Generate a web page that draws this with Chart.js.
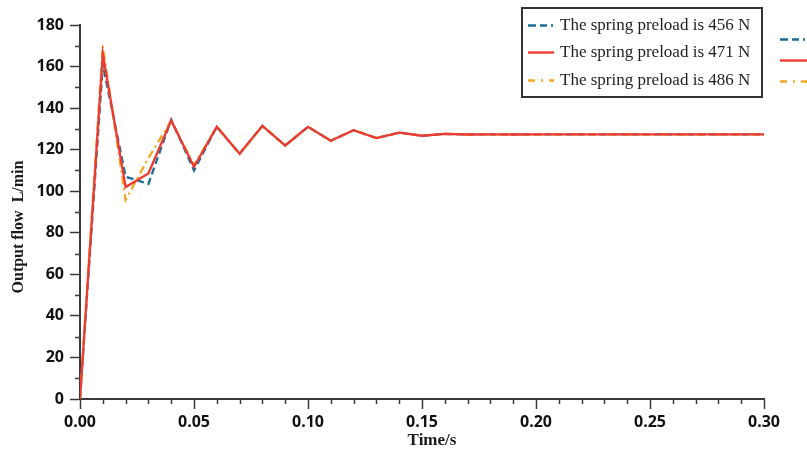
<!DOCTYPE html>
<html>
<head>
<meta charset="utf-8">
<script src="https://cdn.jsdelivr.net/npm/chart.js@4.4.1/dist/chart.umd.min.js"></script>
<style>
  html, body { margin: 0; padding: 0; background: #ffffff; }
  #wrap { width: 807px; height: 460px; position: relative; }
</style>
</head>
<body>
<div id="wrap"><canvas id="c" width="807" height="460"></canvas></div>
<script>
// Time axis (s)
const times = [0.00, 0.01, 0.02, 0.03, 0.04, 0.05, 0.06, 0.07, 0.08, 0.09,
               0.10, 0.11, 0.12, 0.13, 0.14, 0.15, 0.16, 0.17, 0.18, 0.19,
               0.20, 0.21, 0.22, 0.23, 0.24, 0.25, 0.26, 0.27, 0.28, 0.29, 0.30];

// Output flow (L/min) for each spring preload
const flow456 = [0, 161, 107, 103.5, 134.5, 110, 131, 118, 131.5, 122,
                 131, 124.3, 129.4, 125.6, 128.2, 126.7, 127.6, 127.3, 127.4, 127.3,
                 127.4, 127.4, 127.4, 127.4, 127.4, 127.4, 127.4, 127.4, 127.4, 127.4, 127.4];
const flow471 = [0, 166, 102, 108.5, 134, 111.8, 131, 118, 131.5, 122,
                 131, 124.3, 129.4, 125.6, 128.2, 126.7, 127.6, 127.3, 127.4, 127.3,
                 127.4, 127.4, 127.4, 127.4, 127.4, 127.4, 127.4, 127.4, 127.4, 127.4, 127.4];
const flow486 = [0, 170, 95.8, 116, 134, 112.5, 131, 118, 131.3, 122,
                 131, 124.3, 129.4, 125.6, 128.2, 126.7, 127.6, 127.3, 127.4, 127.3,
                 127.4, 127.4, 127.4, 127.4, 127.4, 127.4, 127.4, 127.4, 127.4, 127.4, 127.4];

const seriesLabels = ['The spring preload is 456 N', 'The spring preload is 471 N', 'The spring preload is 486 N'];

// Tick labels
const xTickLabels = ['0.00', '0.05', '0.10', '0.15', '0.20', '0.25', '0.30'];
const yTickLabels = ['0', '20', '40', '60', '80', '100', '120', '140', '160', '180'];

const AXIS = '#3a3a3a';
const styles = [
  { color: '#1b6c98', dash: [7, 4] },
  { color: '#ee3a30', dash: [] },
  { color: '#f7a623', dash: [8, 4, 2, 4] }
];
const legendDash = [[8, 4, 7, 4, 2, 4], [], [7, 6, 2, 6, 9, 4]];

function pts(vals) { return times.map((t, i) => ({ x: t, y: vals[i] })); }

// Minor ticks along both axes
const minorTicks = {
  id: 'minorTicks',
  afterDraw(chart) {
    const { ctx, scales: { x, y } } = chart;
    ctx.save();
    ctx.strokeStyle = AXIS;
    ctx.lineWidth = 1.5;
    ctx.beginPath();
    for (let i = 1; i < 30; i++) {
      if (i % 5 === 0) continue;
      const px = Math.round(x.getPixelForValue(i / 100)) + 0.5;
      ctx.moveTo(px, y.bottom);
      ctx.lineTo(px, y.bottom + 5);
    }
    for (let v = 10; v < 180; v += 20) {
      const py = Math.round(y.getPixelForValue(v)) + 0.5;
      ctx.moveTo(x.left, py);
      ctx.lineTo(x.left - 5, py);
    }
    ctx.stroke();
    ctx.restore();
  }
};

// Axis titles
const axisTitles = {
  id: 'axisTitles',
  afterDraw(chart) {
    const { ctx } = chart;
    ctx.save();
    ctx.fillStyle = '#1a1a1a';
    ctx.font = 'bold 17px "Liberation Serif", "Times New Roman", serif';
    ctx.textAlign = 'center';
    ctx.textBaseline = 'middle';
    ctx.fillText('Time/s', 432, 441);
    ctx.font = 'bold 16px "Liberation Serif", "Times New Roman", serif';
    ctx.translate(19, 227);
    ctx.rotate(-Math.PI / 2);
    ctx.fillText('Output flow  L/min', 0, 0);
    ctx.restore();
  }
};

// Boxed legend plus the sample strip at the right edge
const boxLegend = {
  id: 'boxLegend',
  afterDraw(chart) {
    const { ctx } = chart;
    ctx.save();
    ctx.fillStyle = '#ffffff';
    ctx.fillRect(522, 8, 240, 89);
    ctx.strokeStyle = '#333333';
    ctx.lineWidth = 2;
    ctx.strokeRect(522, 8, 240, 89);
    const rows = [25, 52, 80];
    const rows2 = [39, 60, 81];
    ctx.font = '17px "Liberation Serif", "Times New Roman", serif';
    ctx.textBaseline = 'middle';
    ctx.textAlign = 'left';
    chart.data.datasets.forEach((ds, i) => {
      ctx.strokeStyle = ds.borderColor;
      ctx.lineWidth = 2.4;
      ctx.setLineDash(legendDash[i]);
      ctx.beginPath();
      ctx.moveTo(528, rows[i] + 0.5);
      ctx.lineTo(554, rows[i] + 0.5);
      ctx.stroke();
      ctx.beginPath();
      ctx.moveTo(780, rows2[i] + 0.5);
      ctx.lineTo(807, rows2[i] + 0.5);
      ctx.stroke();
      ctx.setLineDash([]);
      ctx.fillStyle = '#1e1e1e';
      ctx.fillText(ds.label, 560, rows[i] + 1);
    });
    ctx.restore();
  }
};

new Chart(document.getElementById('c'), {
  type: 'line',
  data: {
    datasets: [flow456, flow471, flow486].map((vals, i) => ({
      label: seriesLabels[i],
      data: pts(vals),
      borderColor: styles[i].color,
      borderDash: styles[i].dash,
      borderWidth: 2.3,
      pointRadius: 0,
      tension: 0,
      fill: false,
      order: [2, 0, 1][i]
    }))
  },
  options: {
    responsive: false,
    animation: false,
    devicePixelRatio: 1,
    layout: { padding: { left: 0, right: 43, top: 25, bottom: 0 } },
    plugins: { legend: { display: false }, tooltip: { enabled: false } },
    scales: {
      x: {
        type: 'linear',
        min: 0, max: 0.30,
        afterFit(s) { s.height = 61; },
        afterBuildTicks(s) { s.ticks = xTickLabels.map(t => ({ value: parseFloat(t) })); },
        ticks: {
          padding: 4,
          color: '#111',
          font: { family: '"Noto Sans", sans-serif', weight: 'bold', size: 16 },
          callback: (v, i) => xTickLabels[i]
        },
        grid: { drawOnChartArea: false, drawTicks: true, tickLength: 10, tickColor: AXIS, tickWidth: 1.5 },
        border: { display: true, color: AXIS, width: 2 }
      },
      y: {
        min: 0, max: 180,
        afterFit(s) { s.width = 80; },
        afterBuildTicks(s) { s.ticks = yTickLabels.map(t => ({ value: parseFloat(t) })); },
        ticks: {
          padding: 6,
          color: '#111',
          font: { family: '"Noto Sans", sans-serif', weight: 'bold', size: 16 },
          callback: (v, i) => yTickLabels[i]
        },
        grid: { drawOnChartArea: false, drawTicks: true, tickLength: 10, tickColor: AXIS, tickWidth: 1.5 },
        border: { display: true, color: AXIS, width: 2 }
      }
    }
  },
  plugins: [minorTicks, axisTitles, boxLegend]
});
</script>
</body>
</html>
